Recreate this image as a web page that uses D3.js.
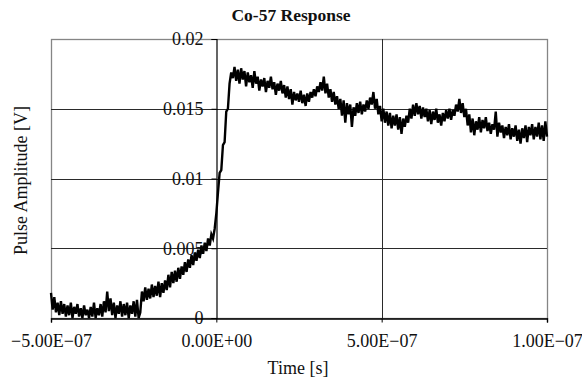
<!DOCTYPE html>
<html>
<head>
<meta charset="utf-8">
<script src="https://cdn.jsdelivr.net/npm/d3@7"></script>
<style>
  html, body { margin: 0; padding: 0; background: #fff; }
  svg { display: block; }
  text { font-family: "Liberation Serif", "Times New Roman", serif; fill: #111; }
</style>
</head>
<body>
<svg id="chart" width="582" height="381"></svg>
<script>
// ---- data ----
const chartTitle = "Co-57 Response";
const xLabel = "Time [s]";
const yLabel = "Pulse Amplitude [V]";
const xTicks = [-5e-7, 0, 5e-7, 1e-6];
const xTickLabels = ["\u22125.00E\u221207", "0.00E+00", "5.00E\u221207", "1.00E\u221207"];
const yTicks = [0, 0.005, 0.01, 0.015, 0.02];
const yTickLabels = ["0", "0.005", "0.01", "0.015", "0.02"];
// sampling grid of the trace (seconds)
const sampleStart = -5e-7;
const sampleStep = 5e-9;
// pulse amplitude [V], one value per sample
const amplitude = [
  0.0018, 0.0006, 0.0015, 0.0004, 0.0011, 0.0002, 0.0012, 0.0003, 0.0010, 0.0001,
  0.0009, 0.0002, 0.0011, 0.0000, 0.0008, 0.0003, 0.0010, 0.0001, 0.0007, 0.0000,
  0.0009, 0.0002, 0.0006, 0.0000, 0.0008, 0.0001, 0.0011, 0.0000, 0.0007, 0.0002,
  0.0010, 0.0001, 0.0012, 0.0004, 0.0019, 0.0005, 0.0014, 0.0002, 0.0011, 0.0000,
  0.0009, 0.0003, 0.0012, 0.0001, 0.0010, 0.0002, 0.0011, 0.0000, 0.0009, 0.0003,
  0.0012, 0.0001, 0.0013, 0.0000, 0.0004, 0.0019, 0.0012, 0.0022, 0.0013, 0.0021,
  0.0014, 0.0024, 0.0015, 0.0023, 0.0016, 0.0026, 0.0015, 0.0025, 0.0018, 0.0027,
  0.0020, 0.0031, 0.0022, 0.0033, 0.0025, 0.0034, 0.0026, 0.0036, 0.0028, 0.0037,
  0.0031, 0.0040, 0.0033, 0.0042, 0.0036, 0.0045, 0.0038, 0.0047, 0.0041, 0.0049,
  0.0043, 0.0052, 0.0046, 0.0054, 0.0048, 0.0057, 0.0052, 0.0060, 0.0057, 0.0064,
  0.0075, 0.0090, 0.0104, 0.0106, 0.0124, 0.0126, 0.0148, 0.0150, 0.0168, 0.0176,
  0.0172, 0.0180, 0.0170, 0.0178, 0.0168, 0.0179, 0.0171, 0.0177, 0.0166, 0.0176,
  0.0169, 0.0174, 0.0165, 0.0177, 0.0168, 0.0173, 0.0163, 0.0171, 0.0166, 0.0172,
  0.0162, 0.0170, 0.0165, 0.0173, 0.0164, 0.0169, 0.0160, 0.0168, 0.0163, 0.0170,
  0.0161, 0.0167, 0.0158, 0.0166, 0.0157, 0.0164, 0.0153, 0.0162, 0.0156, 0.0161,
  0.0155, 0.0163, 0.0154, 0.0160, 0.0152, 0.0161, 0.0155, 0.0162, 0.0158, 0.0164,
  0.0159, 0.0166, 0.0162, 0.0169, 0.0163, 0.0173, 0.0161, 0.0168, 0.0158, 0.0164,
  0.0155, 0.0162, 0.0153, 0.0159, 0.0150, 0.0157, 0.0145, 0.0156, 0.0140, 0.0154,
  0.0146, 0.0153, 0.0137, 0.0151, 0.0145, 0.0154, 0.0147, 0.0155, 0.0146, 0.0153,
  0.0148, 0.0156, 0.0150, 0.0158, 0.0153, 0.0162, 0.0150, 0.0157, 0.0146, 0.0152,
  0.0141, 0.0150, 0.0140, 0.0148, 0.0138, 0.0147, 0.0136, 0.0145, 0.0138, 0.0146,
  0.0135, 0.0144, 0.0132, 0.0143, 0.0137, 0.0145, 0.0140, 0.0150, 0.0143, 0.0153,
  0.0145, 0.0154, 0.0146, 0.0152, 0.0143, 0.0151, 0.0144, 0.0150, 0.0141, 0.0149,
  0.0139, 0.0148, 0.0142, 0.0150, 0.0140, 0.0146, 0.0138, 0.0147, 0.0141, 0.0149,
  0.0143, 0.0150, 0.0142, 0.0149, 0.0145, 0.0153, 0.0148, 0.0157, 0.0147, 0.0154,
  0.0144, 0.0150, 0.0138, 0.0146, 0.0133, 0.0143, 0.0131, 0.0141, 0.0135, 0.0144,
  0.0133, 0.0142, 0.0136, 0.0144, 0.0134, 0.0140, 0.0132, 0.0139, 0.0135, 0.0148,
  0.0130, 0.0140, 0.0133, 0.0138, 0.0129, 0.0137, 0.0131, 0.0139, 0.0128, 0.0136,
  0.0130, 0.0138, 0.0127, 0.0135, 0.0125, 0.0136, 0.0129, 0.0138, 0.0126, 0.0137,
  0.0131, 0.0139, 0.0128, 0.0137, 0.0130, 0.0140, 0.0128, 0.0138, 0.0127, 0.0141,
  0.0130
];

// ---- layout ----
const W = 582, H = 381;
const plot = { left: 51, right: 547, top: 39, bottom: 318 };
const svg = d3.select("#chart");

const x = d3.scaleLinear().domain([-5e-7, 1e-6]).range([plot.left, plot.right]);
const y = d3.scaleLinear().domain([0, 0.02]).range([plot.bottom, plot.top]);

const points = amplitude.map((v, i) => ({ t: sampleStart + i * sampleStep, v }));

// plot frame (gray)
svg.append("rect")
  .attr("x", plot.left + 0.5).attr("y", plot.top + 0.5)
  .attr("width", plot.right - plot.left).attr("height", plot.bottom - plot.top)
  .attr("fill", "none").attr("stroke", "#858585").attr("stroke-width", 1.3);

// horizontal gridlines
svg.append("g")
  .selectAll("line")
  .data(yTicks.filter(d => d > 0 && d < 0.02))
  .join("line")
  .attr("x1", plot.left).attr("x2", plot.right)
  .attr("y1", d => Math.round(y(d)) + 0.5).attr("y2", d => Math.round(y(d)) + 0.5)
  .attr("stroke", "#2a2a2a").attr("stroke-width", 1);

// vertical gridline(s)
svg.append("g")
  .selectAll("line")
  .data(xTicks.filter(d => d > 0 && d < 1e-6))
  .join("line")
  .attr("x1", d => Math.round(x(d)) + 0.5).attr("x2", d => Math.round(x(d)) + 0.5)
  .attr("y1", plot.top).attr("y2", plot.bottom)
  .attr("stroke", "#2a2a2a").attr("stroke-width", 1);

// y axis positioned at t = 0
const yAxis = d3.axisLeft(y)
  .tickValues(yTicks)
  .tickFormat((d, i) => yTickLabels[i])
  .tickSize(5).tickPadding(8);
const gy = svg.append("g")
  .attr("transform", `translate(${Math.round(x(0)) + 0.5},0)`)
  .call(yAxis);
gy.select(".domain").attr("stroke", "#000").attr("stroke-width", 1.2);
gy.selectAll(".tick line").attr("stroke", "#000");
gy.selectAll(".tick text")
  .style("font-family", '"Liberation Serif", serif')
  .style("font-size", "18px").attr("fill", "#222");

// x axis positioned at V = 0
const xAxis = d3.axisBottom(x)
  .tickValues(xTicks)
  .tickFormat((d, i) => xTickLabels[i])
  .tickSize(4).tickPadding(12);
const gx = svg.append("g")
  .attr("transform", `translate(0,${Math.round(y(0)) + 0.5})`)
  .call(xAxis);
gx.select(".domain").attr("stroke", "#000").attr("stroke-width", 1.4);
gx.selectAll(".tick line").attr("stroke", "#000");
gx.selectAll(".tick text")
  .style("font-family", '"Liberation Serif", serif')
  .style("font-size", "18px").attr("fill", "#222");

// trace
const line = d3.line().x(d => x(d.t)).y(d => y(d.v));
svg.append("path")
  .datum(points)
  .attr("d", line)
  .attr("fill", "none")
  .attr("stroke", "#000")
  .attr("stroke-width", 2.4)
  .attr("stroke-linejoin", "miter");

// title
svg.append("text")
  .attr("x", 291).attr("y", 21)
  .attr("text-anchor", "middle")
  .style("font-size", "17.5px").style("font-weight", "bold")
  .text(chartTitle);

// axis titles
svg.append("text")
  .attr("x", 298).attr("y", 374)
  .attr("text-anchor", "middle")
  .style("font-size", "18px")
  .text(xLabel);

svg.append("text")
  .attr("transform", `translate(27,${(plot.top + plot.bottom) / 2 + 2}) rotate(-90)`)
  .attr("text-anchor", "middle")
  .style("font-size", "18px")
  .text(yLabel);
</script>
</body>
</html>
